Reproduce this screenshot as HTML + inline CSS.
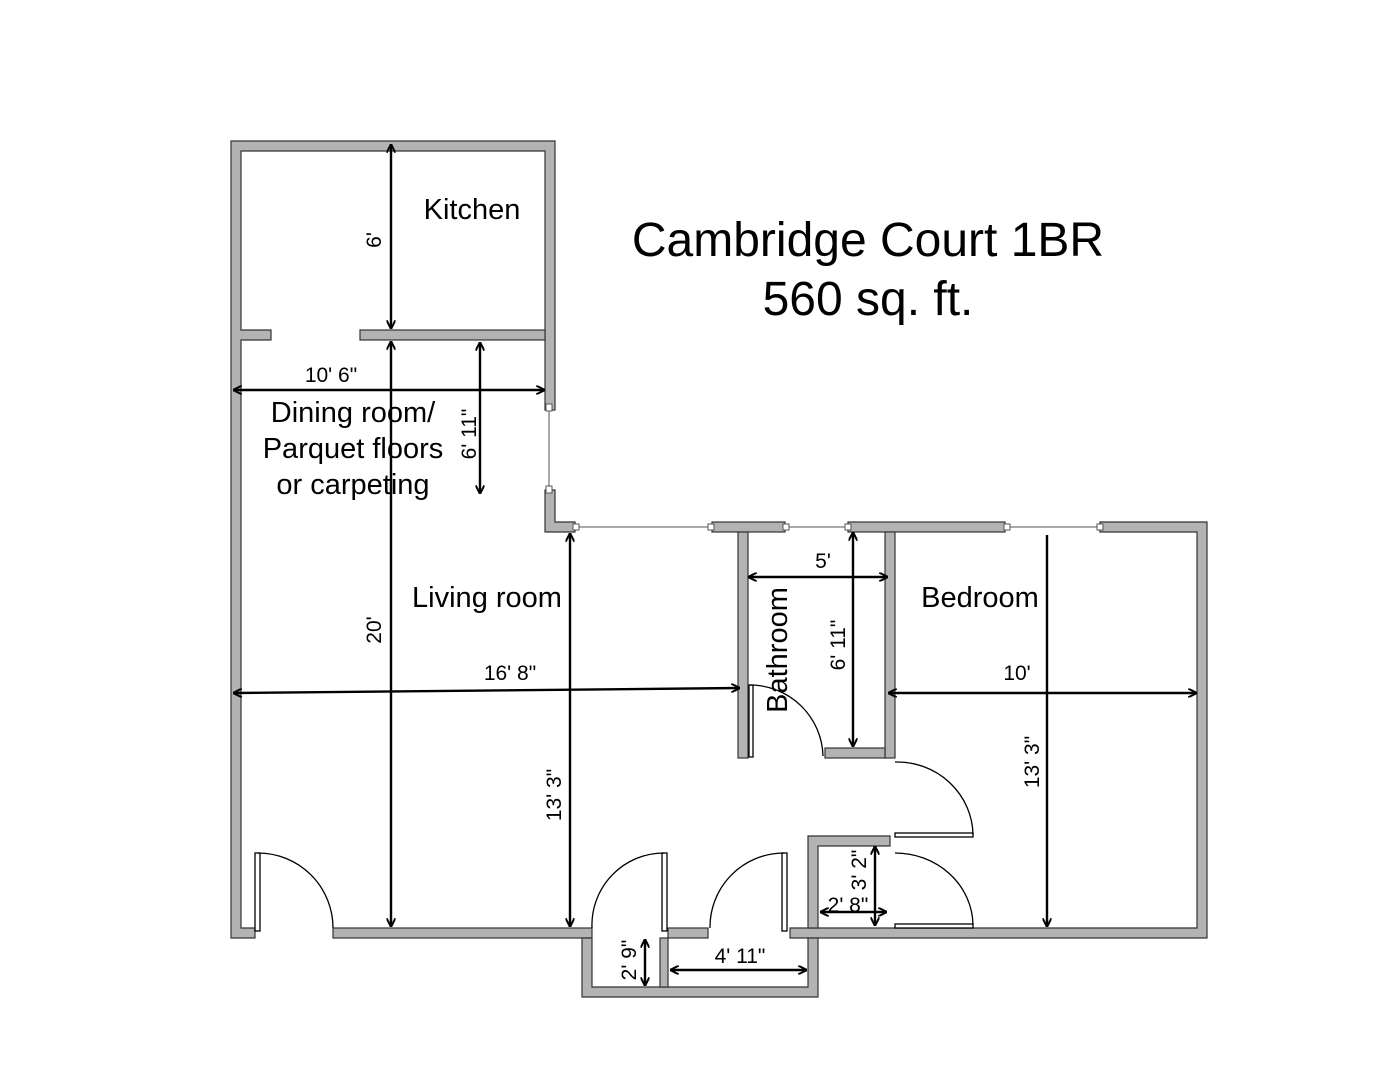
<!DOCTYPE html>
<html><head><meta charset="utf-8"><style>
html,body{margin:0;padding:0;background:#fff}
svg{display:block}
text{font-family:"Liberation Sans",Arial,sans-serif;fill:#000}
</style></head><body>
<svg width="1398" height="1080" viewBox="0 0 1398 1080" xmlns="http://www.w3.org/2000/svg">
<defs>
<marker id="a" viewBox="0 0 10 10" refX="10" refY="5" markerWidth="9" markerHeight="9" orient="auto-start-reverse" markerUnits="userSpaceOnUse">
<path d="M0,0 L10,5 L0,10" fill="none" stroke="#000" stroke-width="2.2"/>
</marker>
</defs>
<rect width="1398" height="1080" fill="#fff"/>
<g fill="#b3b3b3" stroke="#333" stroke-width="1.2">
<path d="M231,141 H555 V410 H545 V151 H241 V330 H271 V340 H241 V928 H255 V938 H231 Z"/>
<rect x="360" y="330" width="185" height="10"/>
<path d="M545,490 H555 V522 H575 V532 H545 Z"/>
<rect x="712" y="522" width="73" height="10"/>
<rect x="738" y="532" width="10" height="226"/>
<rect x="848" y="522" width="157" height="10"/>
<rect x="885" y="532" width="10" height="226"/>
<rect x="825" y="748" width="60" height="10"/>
<path d="M1100,522 H1207 V938 H790 V928 H1197 V532 H1100 Z"/>
<rect x="333" y="928" width="259" height="10"/>
<rect x="668" y="928" width="40" height="10"/>
<path d="M582,938 H592 V987 H808 V938 H818 V997 H582 Z"/>
<rect x="660" y="938" width="8" height="49"/>
<path d="M808,836 H890 V846 H818 V928 H808 Z"/>
</g>
<g stroke="#555" stroke-width="1" fill="#fff">
<line x1="549" y1="410" x2="549" y2="490"/>
<line x1="575" y1="527" x2="712" y2="527"/>
<line x1="785" y1="527" x2="848" y2="527"/>
<line x1="1005" y1="527" x2="1100" y2="527"/>
<rect x="546" y="404" width="6" height="7"/><rect x="546" y="486" width="6" height="7"/>
<rect x="573" y="524" width="6" height="6"/><rect x="708" y="524" width="6" height="6"/>
<rect x="783" y="524" width="6" height="6"/><rect x="845" y="524" width="6" height="6"/>
<rect x="1004" y="524" width="6" height="6"/><rect x="1097" y="524" width="6" height="6"/>
</g>
<g stroke="#000" stroke-width="1.3" fill="none">
<rect x="255" y="853" width="5" height="78" fill="#fff"/>
<path d="M258,853 A75,75 0 0 1 333,928"/>
<rect x="662" y="853" width="5" height="78" fill="#fff"/>
<path d="M664,853 A72,72 0 0 0 592,928"/>
<rect x="782" y="853" width="5" height="78" fill="#fff"/>
<path d="M784,853 A74,74 0 0 0 710,928"/>
<rect x="749" y="685" width="4" height="72" fill="#fff"/>
<path d="M750,685 A73,73 0 0 1 823,756"/>
<rect x="895" y="833" width="78" height="4" fill="#fff"/>
<path d="M895,762 A76,74 0 0 1 973,835"/>
<rect x="895" y="924" width="78" height="4" fill="#fff"/>
<path d="M895,853 A78,73 0 0 1 973,925"/>
</g>
<g stroke="#000" stroke-width="2.4" fill="none" marker-start="url(#a)" marker-end="url(#a)">
<line x1="391" y1="144" x2="391" y2="329"/>
<line x1="391" y1="341" x2="391" y2="927"/>
<line x1="233" y1="390" x2="545" y2="390"/>
<line x1="480" y1="342" x2="480" y2="494"/>
<line x1="570" y1="533" x2="570" y2="927"/>
<line x1="233" y1="693" x2="740" y2="688"/>
<line x1="748" y1="577" x2="888" y2="577"/>
<line x1="853" y1="532" x2="853" y2="747"/>
<line x1="888" y1="693" x2="1197" y2="693"/>
<line x1="645" y1="939" x2="645" y2="986"/>
<line x1="670" y1="970" x2="807" y2="970"/>
<line x1="875" y1="846" x2="875" y2="926"/>
<line x1="820" y1="912" x2="887" y2="912"/>
</g>
<line x1="1047" y1="535" x2="1047" y2="927" stroke="#000" stroke-width="2.4" marker-end="url(#a)"/>
<text x="868" y="256" font-size="48" text-anchor="middle">Cambridge Court 1BR</text>
<text x="868" y="315" font-size="48" text-anchor="middle">560 sq. ft.</text>
<text x="472" y="219" font-size="29" text-anchor="middle">Kitchen</text>
<text x="353" y="422" font-size="29" text-anchor="middle">Dining room/</text>
<text x="353" y="458" font-size="29" text-anchor="middle">Parquet floors</text>
<text x="353" y="494" font-size="29" text-anchor="middle">or carpeting</text>
<text x="487" y="607" font-size="29" text-anchor="middle">Living room</text>
<text x="980" y="607" font-size="29" text-anchor="middle">Bedroom</text>
<text transform="translate(787,650) rotate(-90)" font-size="29" text-anchor="middle">Bathroom</text>
<g font-size="21" text-anchor="middle">
<text x="331" y="382">10' 6"</text>
<text x="510" y="680">16' 8"</text>
<text x="823" y="568">5'</text>
<text x="1017" y="680">10'</text>
<text x="740" y="963">4' 11"</text>
<text x="848" y="912">2' 8"</text>
<text transform="translate(381,240) rotate(-90)">6'</text>
<text transform="translate(381,630) rotate(-90)">20'</text>
<text transform="translate(476,434) rotate(-90)">6' 11"</text>
<text transform="translate(561,795) rotate(-90)">13' 3"</text>
<text transform="translate(845,645) rotate(-90)">6' 11"</text>
<text transform="translate(1039,762) rotate(-90)">13' 3"</text>
<text transform="translate(636,960) rotate(-90)">2' 9"</text>
<text transform="translate(866,870) rotate(-90)">3' 2"</text>
</g>
</svg>
</body></html>
